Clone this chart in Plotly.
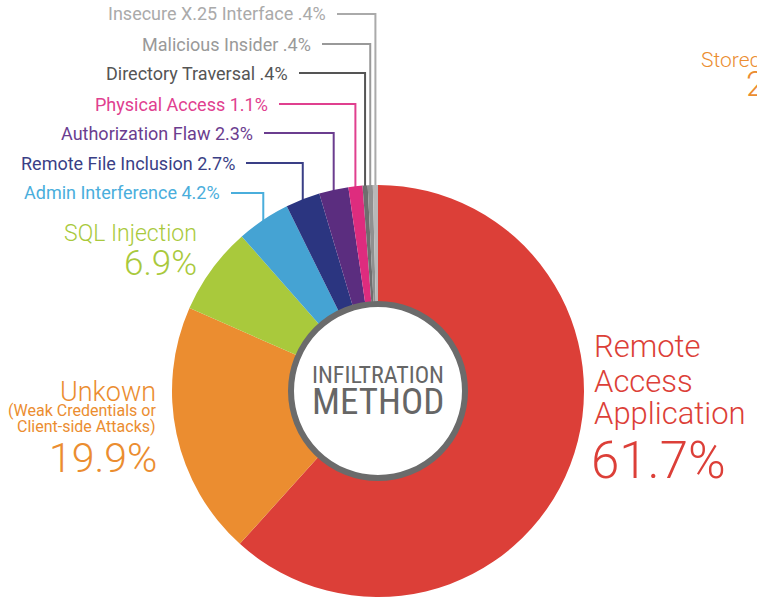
import math
import plotly.graph_objects as go

# ---- data ----
labels = ["Remote Access Application", "Unkown", "SQL Injection", "Admin Interference",
          "Remote File Inclusion", "Authorization Flaw", "Physical Access",
          "Directory Traversal", "Malicious Insider", "Insecure X.25 Interface"]
values = [61.7, 19.9, 6.9, 4.2, 2.7, 2.3, 1.1, 0.4, 0.4, 0.4]
value_text = ["61.7%", "19.9%", "6.9%", "4.2%", "2.7%", "2.3%", "1.1%", ".4%", ".4%", ".4%"]
colors = ["#DC3F38", "#EB8D30", "#A9C93C", "#45A3D3", "#2B3580", "#5B2D7F",
          "#DE2C7E", "#6E6E6E", "#909090", "#B8B8B8"]
label_colors = ["#DC3F38", "#EB8D30", "#A9C93C", "#4AAEDC", "#3A3F86", "#6B3D8F",
                "#E0408F", "#555555", "#999999", "#AAAAAA"]

W, H = 757, 601
CX, CY, R = 378, 391, 206


def px(x):
    return x / W


def py(y):
    return 1 - y / H


fig = go.Figure(go.Pie(
    labels=labels, values=values, sort=False, direction="clockwise", rotation=0,
    hole=0.4, textinfo="none", hoverinfo="label+percent", showlegend=False,
    marker=dict(colors=colors, line=dict(width=0)),
    domain=dict(x=[px(CX - R), px(CX + R)], y=[py(CY + R), py(CY - R)]),
))

shapes = []
annotations = []

# centre disc
RC = 87
shapes.append(dict(type="circle", xref="paper", yref="paper", layer="above",
                   x0=px(CX - RC), x1=px(CX + RC), y0=py(CY + RC), y1=py(CY - RC),
                   fillcolor="white", line=dict(color="#6B6B6B", width=6)))
center_font = "Liberation Sans Narrow, Roboto Condensed, Roboto"
annotations.append(dict(text="INFILTRATION", x=px(CX), y=py(375), xanchor="center", yanchor="middle",
                        font=dict(family=center_font, size=24, color="#666666")))
annotations.append(dict(text="METHOD", x=px(CX), y=py(401), xanchor="center", yanchor="middle",
                        font=dict(family=center_font, size=37, color="#666666")))

# small labels with leader lines (index, label y, text right edge)
small = [(3, 193, 222), (4, 163, 237), (5, 133, 255), (6, 104, 270),
         (7, 73, 290), (8, 44, 313), (9, 14, 328)]
total = sum(values)
cum = [sum(values[:i]) for i in range(len(values))]
for i, ly, tx in small:
    fmid = (cum[i] + values[i] / 2) / total
    theta = 2 * math.pi * fmid
    vx = CX + R * math.sin(theta)
    vy = CY - math.sqrt(R * R - (vx - CX) ** 2) + 2
    annotations.append(dict(text=f"{labels[i]} {value_text[i]}", x=px(tx), y=py(ly),
                            xanchor="right", yanchor="middle",
                            font=dict(family="Roboto", size=18, color=label_colors[i])))
    shapes.append(dict(type="path", xref="paper", yref="paper", layer="below",
                       path=f"M {px(tx + 9)} {py(ly)} L {px(vx)} {py(ly)} L {px(vx)} {py(vy)}",
                       line=dict(color=label_colors[i], width=2)))

# big labels
bf = "Roboto"
annotations += [
    dict(text="Remote", x=px(592), y=py(367), xanchor="left", yanchor="bottom",
         font=dict(size=31, color=label_colors[0], family=bf, weight=300)),
    dict(text="Access", x=px(592), y=py(402), xanchor="left", yanchor="bottom",
         font=dict(size=31, color=label_colors[0], family=bf, weight=300)),
    dict(text="Application", x=px(592), y=py(434), xanchor="left", yanchor="bottom",
         font=dict(size=31, color=label_colors[0], family=bf, weight=300)),
    dict(text=value_text[0], x=px(589), y=py(492), xanchor="left", yanchor="bottom",
         font=dict(size=51, color=label_colors[0], family=bf, weight=300)),
    dict(text="SQL Injection", x=px(199), y=py(249), xanchor="right", yanchor="bottom",
         font=dict(size=23, color=label_colors[2], family=bf, weight=300)),
    dict(text=value_text[2], x=px(199), y=py(286), xanchor="right", yanchor="bottom",
         font=dict(size=35, color=label_colors[2], family=bf, weight=300)),
    dict(text="Unkown", x=px(158), y=py(410), xanchor="right", yanchor="bottom",
         font=dict(size=27, color=label_colors[1], family=bf, weight=300)),
    dict(text="(Weak Credentials or", x=px(158), y=py(422), xanchor="right", yanchor="bottom",
         font=dict(size=16, color=label_colors[1], family=bf)),
    dict(text="Client-side Attacks)", x=px(158), y=py(438), xanchor="right", yanchor="bottom",
         font=dict(size=16, color=label_colors[1], family=bf)),
    dict(text=value_text[1], x=px(159), y=py(484), xanchor="right", yanchor="bottom",
         font=dict(size=41, color=label_colors[1], family=bf, weight=300)),
    dict(text="Stored", x=px(699), y=py(74), xanchor="left", yanchor="bottom",
         font=dict(size=21, color=label_colors[1], family=bf, weight=300)),
    dict(text="2", x=px(744), y=py(107), xanchor="left", yanchor="bottom",
         font=dict(size=35, color=label_colors[1], family=bf, weight=300)),
]
for a in annotations:
    a.setdefault("xref", "paper")
    a.setdefault("yref", "paper")
    a.setdefault("showarrow", False)

fig.update_layout(width=W, height=H, margin=dict(l=0, r=0, t=0, b=0),
                  paper_bgcolor="white", plot_bgcolor="white",
                  shapes=shapes, annotations=annotations)
fig.write_html("out.html")
